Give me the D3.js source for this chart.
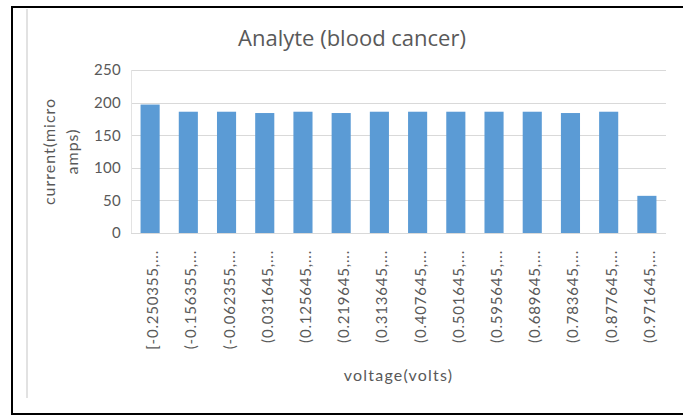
<!DOCTYPE html>
<html>
<head>
<meta charset="utf-8">
<title>Analyte (blood cancer)</title>
<script src="https://d3js.org/d3.v7.min.js"></script>
<style>
  body { margin: 0; background: #fff; }
  text { fill: #595959; }
</style>
</head>
<body>
<div id="container"></div>
<script>
// Data
const categories = ["[-0.250355,...", "(-0.156355,...", "(-0.062355,...", "(0.031645,...",
  "(0.125645,...", "(0.219645,...", "(0.313645,...", "(0.407645,...", "(0.501645,...",
  "(0.595645,...", "(0.689645,...", "(0.783645,...", "(0.877645,...", "(0.971645,..."]
const values = [197, 186, 186, 184, 186, 184, 186, 186, 186, 186, 186, 184, 186, 57]
const yTicks = [0, 50, 100, 150, 200, 250]

const w = 683
const h = 417
const plot = { left: 131, right: 666, top: 70, bottom: 233 }
const axisFont = "Lato, 'Open Sans', sans-serif"

const svg = d3.select("#container")
  .append("svg")
  .attr("width", w)
  .attr("height", h)

// frame
svg.append("path")
  .attr("d", `M${w},7 H12 V414 H${w}`)
  .attr("fill", "none")
  .attr("stroke", "#000")
  .attr("stroke-width", 2)
svg.append("line")
  .attr("x1", 27).attr("x2", 27).attr("y1", 9).attr("y2", 398)
  .attr("stroke", "#d9d9d9")
  .attr("stroke-width", 1.5)

// Scales
const xScale = d3.scaleBand()
  .domain(categories)
  .range([plot.left, plot.right])
  .paddingInner(0.5)
  .paddingOuter(0.25)

const yScale = d3.scaleLinear()
  .domain([0, 250])
  .range([plot.bottom, plot.top])

// gridlines
svg.append("g")
  .selectAll("line")
  .data(yTicks)
  .join("line")
  .attr("x1", plot.left)
  .attr("x2", plot.right)
  .attr("y1", d => Math.round(yScale(d)) + 0.5)
  .attr("y2", d => Math.round(yScale(d)) + 0.5)
  .attr("stroke", "#d9d9d9")
svg.append("line")
  .attr("x1", plot.left + 0.5).attr("x2", plot.left + 0.5)
  .attr("y1", plot.top).attr("y2", plot.bottom)
  .attr("stroke", "#e3e3e3")

// Bars
svg.append("g")
  .selectAll("rect")
  .data(values)
  .join("rect")
  .attr("x", (d, i) => xScale(categories[i]))
  .attr("y", d => yScale(d))
  .attr("width", xScale.bandwidth())
  .attr("height", d => yScale(0) - yScale(d))
  .attr("fill", "#5b9bd5")

// Y axis
const yAxis = d3.axisLeft(yScale)
  .tickValues(yTicks)
  .tickSize(0)
  .tickPadding(10)
svg.append("g")
  .attr("transform", `translate(${plot.left},0)`)
  .call(yAxis)
  .call(g => g.select(".domain").remove())
  .call(g => g.selectAll("text")
    .attr("font-family", axisFont)
    .attr("font-size", 15)
    .attr("letter-spacing", 0.3)
    .attr("fill", "#595959"))

// X axis labels
const xAxis = d3.axisBottom(xScale).tickSize(0)
svg.append("g")
  .attr("transform", `translate(0,${plot.bottom})`)
  .call(xAxis)
  .call(g => g.select(".domain").remove())
  .call(g => g.selectAll("text")
    .attr("font-family", axisFont)
    .attr("font-size", 15)
    .attr("letter-spacing", 0.8)
    .attr("fill", "#595959")
    .attr("text-anchor", "end")
    .attr("dominant-baseline", "central")
    .attr("y", 0)
    .attr("dy", 0)
    .attr("transform", "translate(2,17) rotate(-90)"))

// Title
svg.append("text")
  .attr("x", 352)
  .attr("y", 46)
  .attr("text-anchor", "middle")
  .attr("font-family", "'Open Sans', sans-serif")
  .attr("font-size", 22)
  .text("Analyte (blood cancer)")

// Axis titles
svg.append("text")
  .attr("x", (plot.left + plot.right) / 2)
  .attr("y", 381)
  .attr("text-anchor", "middle")
  .attr("font-family", axisFont)
  .attr("font-size", 16)
  .attr("letter-spacing", 1.2)
  .text("voltage(volts)")

const yTitle = svg.append("text")
  .attr("transform", `translate(55,${(plot.top + plot.bottom) / 2}) rotate(-90)`)
  .attr("text-anchor", "middle")
  .attr("font-family", axisFont)
  .attr("font-size", 16)
  .attr("letter-spacing", 1)
yTitle.append("tspan").attr("x", 0).attr("y", 0).text("current(micro")
yTitle.append("tspan").attr("x", 0).attr("y", 23).text("amps)")
</script>
</body>
</html>
